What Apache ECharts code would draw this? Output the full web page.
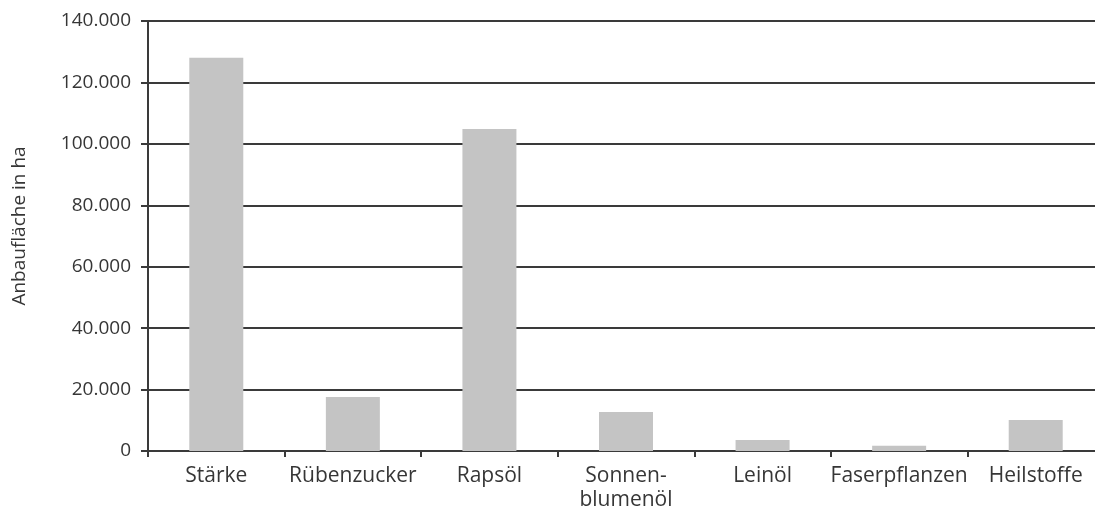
<!DOCTYPE html>
<html>
<head>
<meta charset="utf-8">
<script src="https://cdn.jsdelivr.net/npm/echarts@6/dist/echarts.min.js"></script>
<style>
  html, body { margin: 0; padding: 0; background: #fff; overflow: hidden; }
  /* the last category runs a little past the visible edge */
  #chart { width: 1104px; height: 513px; }
</style>
</head>
<body>
<div id="chart"></div>
<script>
// Anbaufläche nachwachsender Rohstoffe nach Nutzungsart (ha)
const categories = ['Stärke', 'Rübenzucker', 'Rapsöl', 'Sonnen-\nblumenöl', 'Leinöl', 'Faserpflanzen', 'Heilstoffe'];
const areaHa = [128000, 17600, 104800, 12700, 3600, 1700, 10100];
const yTicks = { min: 0, max: 140000, interval: 20000 };

const textColor = '#363636';
const lineColor = '#3a3a3a';
const fontFamily = '"Open Sans", "Noto Sans", sans-serif';

const chart = echarts.init(document.getElementById('chart'), null, { renderer: 'canvas' });

function fmtThousands(v) {
  return String(v).replace(/\B(?=(\d{3})+(?!\d))/g, '.');
}

chart.setOption({
  animation: false,
  backgroundColor: '#ffffff',
  grid: { left: 148, right: 0, top: 21, bottom: 62, containLabel: false },
  xAxis: {
    type: 'category',
    data: categories,
    axisLine: { show: true, lineStyle: { color: lineColor, width: 2 } },
    axisTick: { show: true, alignWithLabel: false, length: 6, lineStyle: { color: lineColor, width: 2 } },
    axisLabel: {
      color: textColor, fontFamily, fontSize: 21, margin: 13, lineHeight: 24, interval: 0
    }
  },
  yAxis: {
    type: 'value',
    min: yTicks.min,
    max: yTicks.max,
    interval: yTicks.interval,
    name: 'Anbaufläche in ha',
    nameLocation: 'middle',
    nameGap: 119,
    nameRotate: 90,
    nameTextStyle: { color: textColor, fontFamily, fontSize: 19, padding: [0, 0, 0, 20] },
    axisLine: { show: true, lineStyle: { color: lineColor, width: 2 } },
    axisTick: { show: true, length: 7, lineStyle: { color: lineColor, width: 2 } },
    axisLabel: {
      color: textColor, fontFamily, fontSize: 19, margin: 17,
      formatter: fmtThousands
    },
    splitLine: { show: true, lineStyle: { color: lineColor, width: 2 } }
  },
  series: [{
    type: 'bar',
    data: areaHa,
    barWidth: 54,
    itemStyle: { color: '#c4c4c4' }
  }]
});
</script>
</body>
</html>
